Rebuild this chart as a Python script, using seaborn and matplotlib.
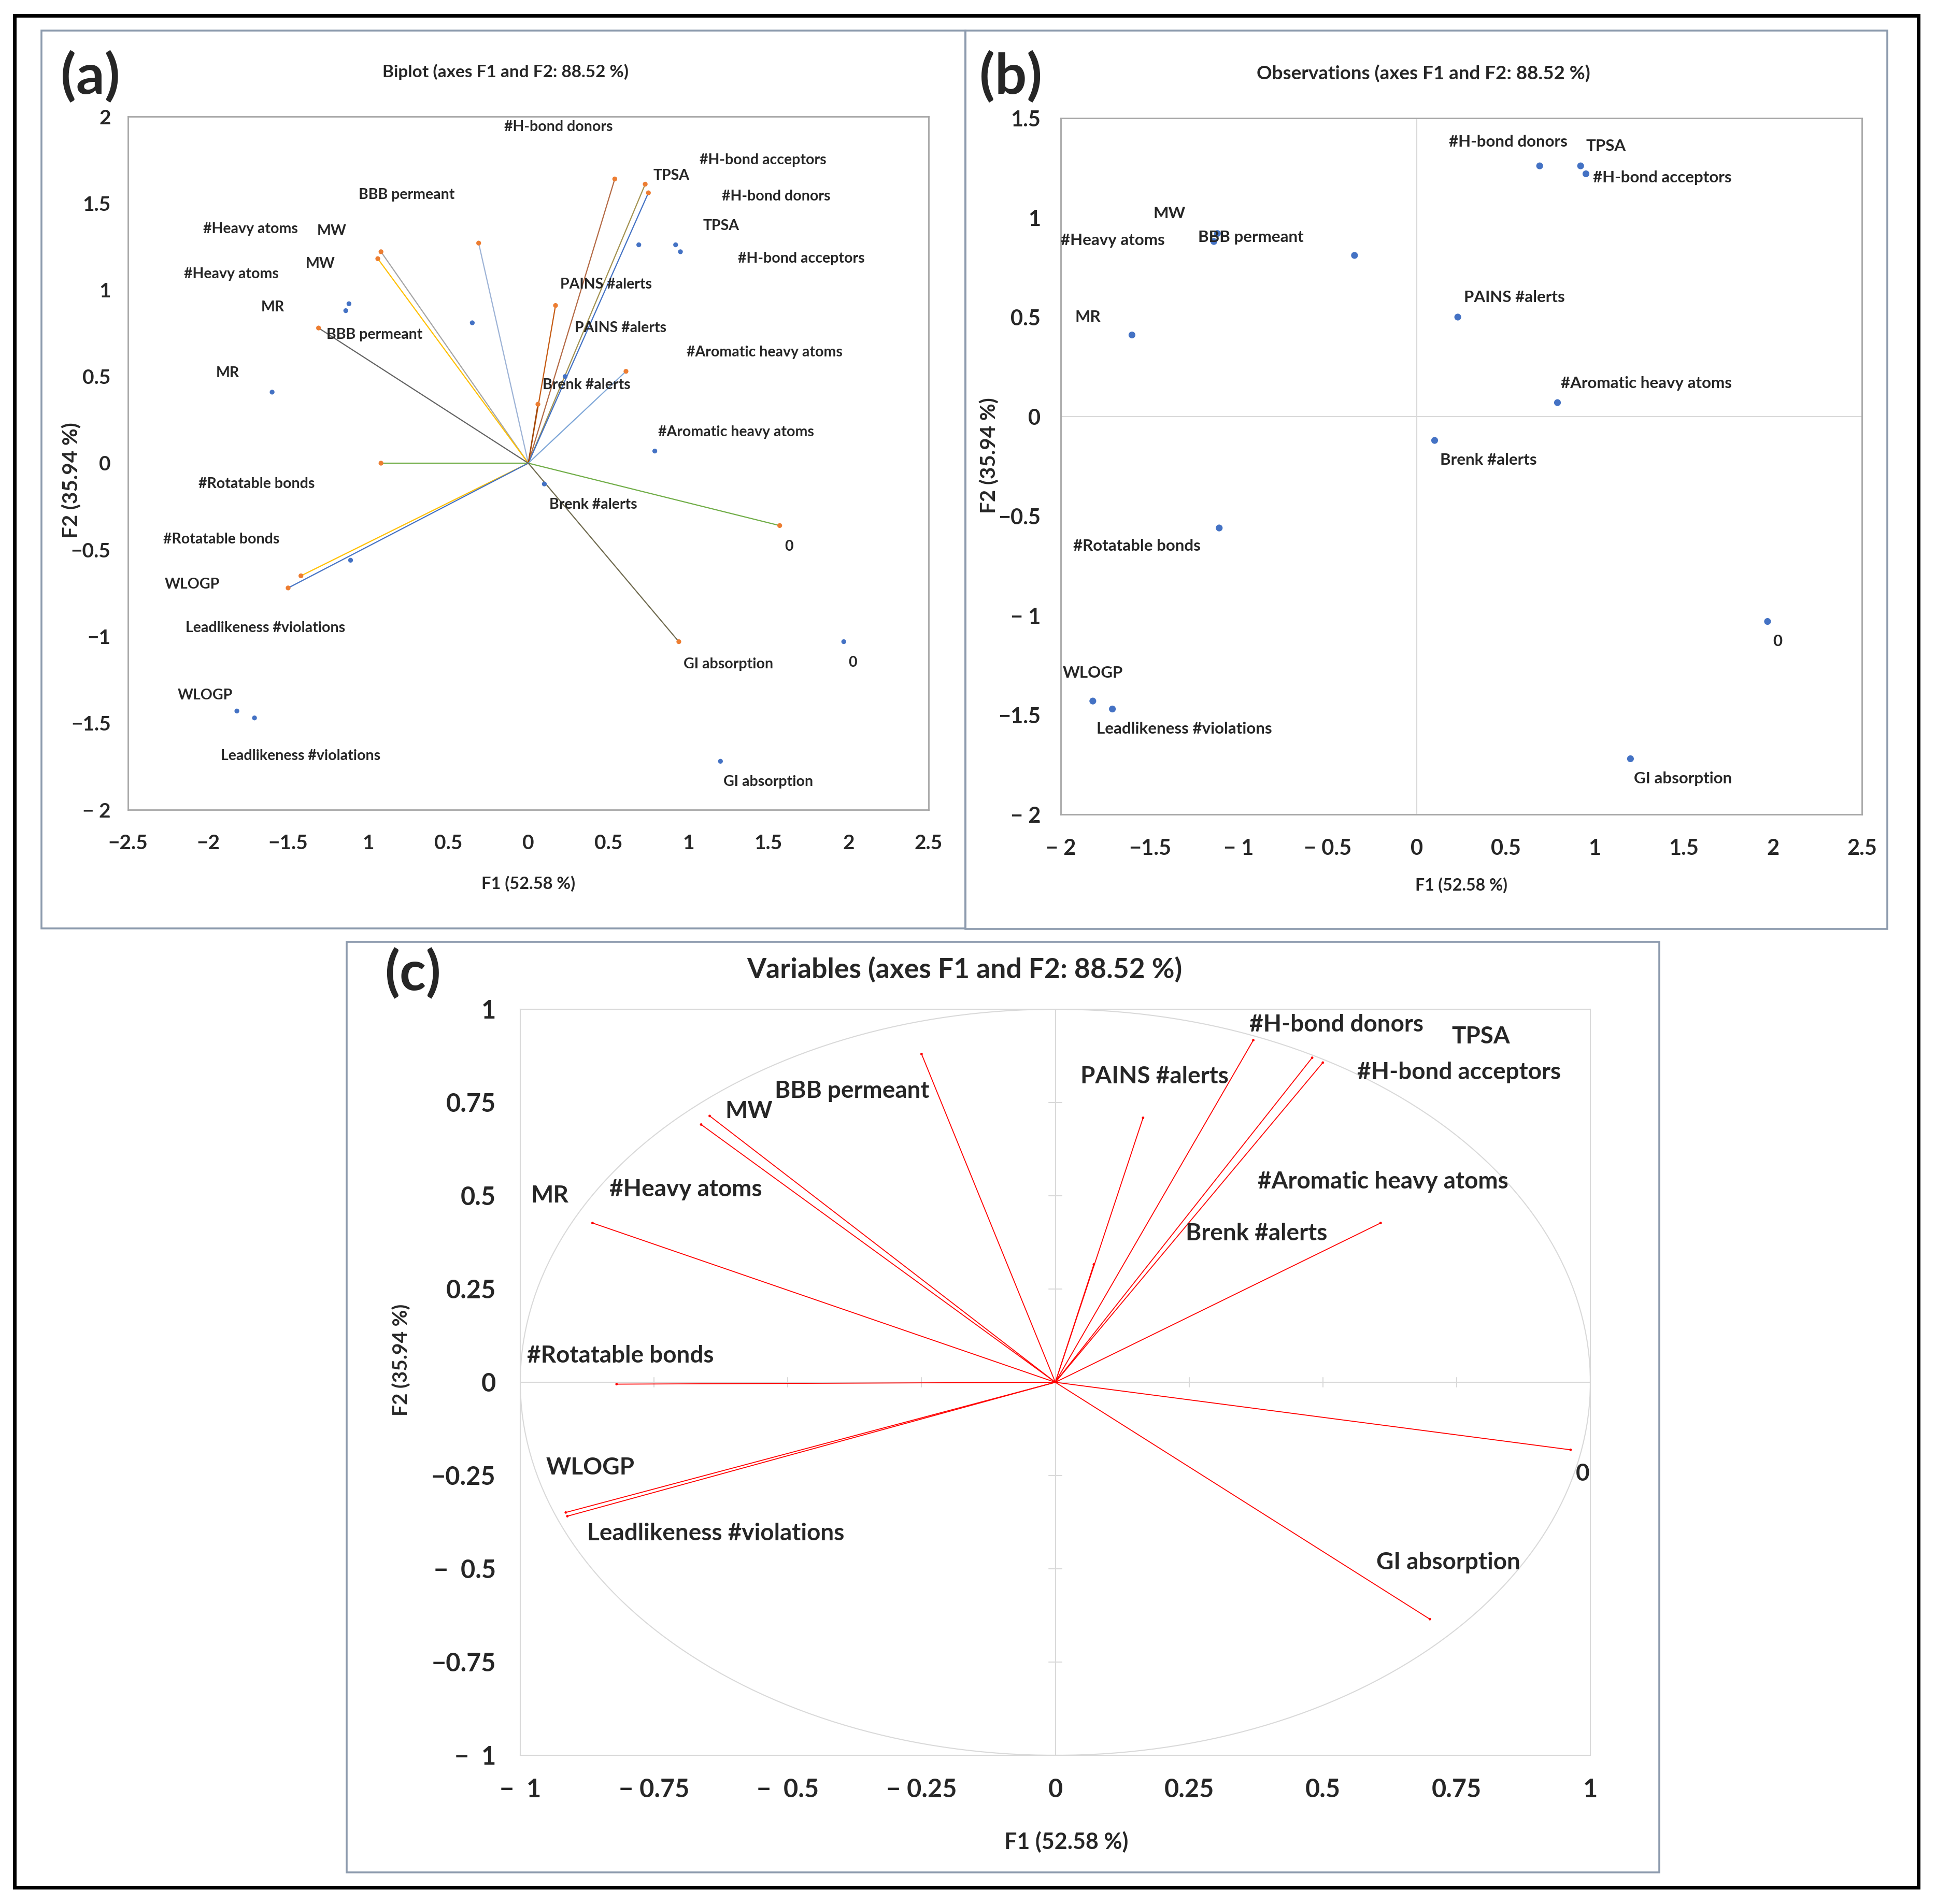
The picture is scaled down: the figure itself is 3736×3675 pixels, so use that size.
import numpy as np
import pandas as pd
import seaborn as sns
import matplotlib.pyplot as plt
from matplotlib.patches import Rectangle, Ellipse

W, H = 3736, 3675

variables = ['#H-bond donors', 'TPSA', '#H-bond acceptors', 'BBB permeant', 'MW',
             '#Heavy atoms', 'MR', '#Rotatable bonds', 'WLOGP', 'Leadlikeness #violations',
             'PAINS #alerts', 'Brenk #alerts', '#Aromatic heavy atoms', '0', 'GI absorption']

# (a) biplot : variable vectors
biplot_f1 = [0.54, 0.73, 0.75, -0.31, -0.92, -0.94, -1.31, -0.92, -1.42, -1.50, 0.17, 0.06, 0.61, 1.57, 0.94]
biplot_f2 = [1.64, 1.61, 1.56, 1.27, 1.22, 1.18, 0.78, 0.00, -0.65, -0.72, 0.91, 0.34, 0.53, -0.36, -1.03]

# observations (a) and (b)
obs_f1 = [0.69, 0.92, 0.95, -0.35, -1.12, -1.14, -1.60, -1.11, -1.82, -1.71, 0.23, 0.10, 0.79, 1.97, 1.20]
obs_f2 = [1.26, 1.26, 1.22, 0.81, 0.92, 0.88, 0.41, -0.56, -1.43, -1.47, 0.50, -0.12, 0.07, -1.03, -1.72]

# (c) correlation circle
var_f1 = [0.370, 0.480, 0.500, -0.250, -0.646, -0.662, -0.865, -0.820, -0.915, -0.912, 0.164, 0.072, 0.608, 0.963, 0.700]
var_f2 = [0.917, 0.870, 0.857, 0.880, 0.714, 0.691, 0.427, -0.005, -0.349, -0.359, 0.709, 0.316, 0.427, -0.181, -0.635]

# label anchors (left edge, middle)
a_lab1_x = [-0.15, 0.78, 1.07, -1.06, -1.32, -2.03, -1.67, -2.06, -2.27, -2.14, 0.20, 0.09, 0.99, 1.60, 0.97]
a_lab1_y = [1.94, 1.66, 1.75, 1.55, 1.34, 1.35, 0.90, -0.12, -0.70, -0.95, 1.03, 0.45, 0.64, -0.48, -1.16]
a_lab2_x = [1.21, 1.09, 1.31, -1.26, -1.39, -2.15, -1.95, -2.28, -2.19, -1.92, 0.29, 0.13, 0.81, 2.00, 1.22]
a_lab2_y = [1.54, 1.37, 1.18, 0.74, 1.15, 1.09, 0.52, -0.44, -1.34, -1.69, 0.78, -0.24, 0.18, -1.15, -1.84]
b_lab_x = [0.18, 0.95, 0.99, -1.23, -1.48, -2.00, -1.92, -1.93, -1.99, -1.80, 0.265, 0.13, 0.81, 2.00, 1.22]
b_lab_y = [1.38, 1.36, 1.20, 0.90, 1.02, 0.885, 0.50, -0.65, -1.29, -1.57, 0.60, -0.22, 0.166, -1.13, -1.82]
c_lab_x = [0.363, 0.741, 0.564, -0.524, -0.617, -0.833, -0.98, -0.987, -0.952, -0.875, 0.047, 0.244, 0.378, 0.973, 0.60]
c_lab_y = [0.958, 0.927, 0.83, 0.78, 0.726, 0.517, 0.50, 0.071, -0.229, -0.405, 0.82, 0.399, 0.538, -0.246, -0.483]

a_xticks = [-2.5, -2, -1.5, -1, -0.5, 0, 0.5, 1, 1.5, 2, 2.5]
a_xlabels = ['\u22122.5', '\u22122', '\u22121.5', '1', '0.5', '0', '0.5', '1', '1.5', '2', '2.5']
a_yticks = [2, 1.5, 1, 0.5, 0, -0.5, -1, -1.5, -2]
a_ylabels = ['2', '1.5', '1', '0.5', '0', '\u22120.5', '\u22121', '\u22121.5', '\u2212 2']
b_xticks = [-2, -1.5, -1, -0.5, 0, 0.5, 1, 1.5, 2, 2.5]
b_xlabels = ['\u2212 2', '\u22121.5', '\u2212 1', '\u2212 0.5', '0', '0.5', '1', '1.5', '2', '2.5']
b_yticks = [1.5, 1, 0.5, 0, -0.5, -1, -1.5, -2]
b_ylabels = ['1.5', '1', '0.5', '0', '\u22120.5', '\u2212 1', '\u22121.5', '\u2212 2']
c_ticks = [-1, -0.75, -0.5, -0.25, 0, 0.25, 0.5, 0.75, 1]
c_xlabels = ['\u2212  1', '\u2212 0.75', '\u2212  0.5', '\u2212 0.25', '0', '0.25', '0.5', '0.75', '1']
c_ylabels = ['\u2212  1', '\u22120.75', '\u2212  0.5', '\u22120.25', '0', '0.25', '0.5', '0.75', '1']

line_colors = ['#B46A45', '#A39250', '#4472C4', '#9DB3D6', '#A5A5A5', '#FFC000', '#636363',
               '#70AD47', '#FFC000', '#4472C4', '#C55A11', '#9E480E', '#7FA7D8', '#70AD47', '#6F6A4F']

sns.set_theme(style='white')
plt.rcParams['font.family'] = ['Lato', 'DejaVu Sans']


def fx(px):
    return px / W


def fy(py):
    return 1 - py / H


def box(x0, y0, x1, y1):
    return [fx(x0), fy(y1), (x1 - x0) / W, (y1 - y0) / H]


def style_ticks(ax):
    for lab in ax.get_xticklabels() + ax.get_yticklabels():
        lab.set_fontweight('bold')
    ax.set_xlabel('')
    ax.set_ylabel('')


fig = plt.figure(figsize=(W / 100, H / 100), dpi=100)
fig.patch.set_facecolor('white')

# frames
fig.patches.append(Rectangle((fx(28), fy(3643)), (3702 - 28) / W, (3643 - 30) / H, fill=False,
                             ec='black', lw=5, transform=fig.transFigure))
for x0, y0, x1, y1 in [(80, 59, 1863, 1792), (1863, 59, 3642, 1793), (669, 1818, 3202, 3614)]:
    fig.patches.append(Rectangle((fx(x0), fy(y1)), (x1 - x0) / W, (y1 - y0) / H, fill=False,
                                 ec='#8D9BAE', lw=2.6, transform=fig.transFigure))

df_bi = pd.DataFrame({'var': variables, 'F1': biplot_f1, 'F2': biplot_f2})
df_obs = pd.DataFrame({'var': variables, 'F1': obs_f1, 'F2': obs_f2})
df_var = pd.DataFrame({'var': variables, 'F1': var_f1, 'F2': var_f2})

# ---------- (a) Biplot ----------
ax = fig.add_axes(box(247, 225, 1792, 1563))
for i, row in df_bi.iterrows():
    ax.plot([0, row.F1], [0, row.F2], color=line_colors[i], lw=1.6, zorder=2)
sns.scatterplot(data=df_bi, x='F1', y='F2', color='#ED7D31', s=45, edgecolor='none', ax=ax, zorder=3)
sns.scatterplot(data=df_obs, x='F1', y='F2', color='#4472C4', s=45, edgecolor='none', ax=ax, zorder=3)
for i, name in enumerate(variables):
    ax.text(a_lab1_x[i], a_lab1_y[i], name, ha='left', va='center', fontsize=20.5, fontweight='bold')
    ax.text(a_lab2_x[i], a_lab2_y[i], name, ha='left', va='center', fontsize=20.5, fontweight='bold')
ax.set_xlim(-2.5, 2.5)
ax.set_ylim(-2, 2)
ax.set_xticks(a_xticks, a_xlabels)
ax.set_yticks(a_yticks, a_ylabels)
ax.tick_params(axis='x', length=0, pad=34, labelsize=28)
ax.tick_params(axis='y', length=0, pad=24, labelsize=28)
style_ticks(ax)
for sp in ax.spines.values():
    sp.set_color('#A6A6A6')
    sp.set_linewidth(2)

fig.text(fx(976), fy(139), 'Biplot (axes F1 and F2: 88.52 %)', ha='center', va='center',
         fontsize=24, fontweight='bold')
fig.text(fx(1020), fy(1706), 'F1 (52.58 %)', ha='center', va='center', fontsize=23.5, fontweight='bold')
fig.text(fx(139), fy(927), 'F2 (35.94 %)', ha='center', va='center', rotation=90,
         fontsize=29, fontweight='bold')
fig.text(fx(174), fy(148), '(a)', ha='center', va='center', fontsize=78, fontweight='bold')

# ---------- (b) Observations ----------
ax = fig.add_axes(box(2047, 228, 3593, 1572))
ax.axhline(0, color='#D9D9D9', lw=1.5, zorder=1)
ax.axvline(0, color='#D9D9D9', lw=1.5, zorder=1)
sns.scatterplot(data=df_obs, x='F1', y='F2', color='#4472C4', s=90, edgecolor='none', ax=ax, zorder=3)
for i, name in enumerate(variables):
    ax.text(b_lab_x[i], b_lab_y[i], name, ha='left', va='center', fontsize=22.5, fontweight='bold')
ax.set_xlim(-2, 2.5)
ax.set_ylim(-2, 1.5)
ax.set_xticks(b_xticks, b_xlabels)
ax.set_yticks(b_yticks, b_ylabels)
ax.tick_params(axis='x', length=0, pad=34, labelsize=30)
ax.tick_params(axis='y', length=0, pad=28, labelsize=30)
style_ticks(ax)
for sp in ax.spines.values():
    sp.set_color('#A6A6A6')
    sp.set_linewidth(2)

fig.text(fx(2747), fy(142), 'Observations (axes F1 and F2: 88.52 %)', ha='center', va='center',
         fontsize=26.5, fontweight='bold')
fig.text(fx(2820), fy(1709), 'F1 (52.58 %)', ha='center', va='center', fontsize=23, fontweight='bold')
fig.text(fx(1910), fy(879), 'F2 (35.94 %)', ha='center', va='center', rotation=90,
         fontsize=29, fontweight='bold')
fig.text(fx(1951), fy(148), '(b)', ha='center', va='center', fontsize=78, fontweight='bold')

# ---------- (c) Variables ----------
ax = fig.add_axes(box(1004, 1948, 3069, 3388))
ax.add_patch(Ellipse((0, 0), 2, 2, fill=False, ec='#D9D9D9', lw=1.5, zorder=1))
ax.axhline(0, color='#D9D9D9', lw=1.5, zorder=1)
ax.axvline(0, color='#D9D9D9', lw=1.5, zorder=1)
for t in c_ticks:
    ax.plot([t, t], [-0.012, 0.012], color='#D9D9D9', lw=1.5, zorder=1)
    ax.plot([-0.012, 0.012], [t, t], color='#D9D9D9', lw=1.5, zorder=1)
for i, row in df_var.iterrows():
    ax.plot([0, row.F1], [0, row.F2], color='#FF0000', lw=1.3, zorder=2)
sns.scatterplot(data=df_var, x='F1', y='F2', color='#FF0000', s=12, edgecolor='none', ax=ax, zorder=3)
for i, name in enumerate(variables):
    ax.text(c_lab_x[i], c_lab_y[i], name, ha='left', va='center', fontsize=33, fontweight='bold')
ax.set_xlim(-1, 1)
ax.set_ylim(-1, 1)
ax.set_xticks(c_ticks, c_xlabels)
ax.set_yticks(c_ticks, c_ylabels)
ax.tick_params(axis='x', length=0, pad=32, labelsize=35)
ax.tick_params(axis='y', length=0, pad=34, labelsize=35)
style_ticks(ax)
for sp in ax.spines.values():
    sp.set_color('#D9D9D9')
    sp.set_linewidth(1.5)

fig.text(fx(1861), fy(1871), 'Variables (axes F1 and F2: 88.52 %)', ha='center', va='center',
         fontsize=38.5, fontweight='bold')
fig.text(fx(2058), fy(3555), 'F1 (52.58 %)', ha='center', va='center', fontsize=31, fontweight='bold')
fig.text(fx(774), fy(2625), 'F2 (35.94 %)', ha='center', va='center', rotation=90,
         fontsize=28, fontweight='bold')
fig.text(fx(796), fy(1880), '(c)', ha='center', va='center', fontsize=76, fontweight='bold')

fig.savefig('out.png', dpi=100, facecolor='white')
